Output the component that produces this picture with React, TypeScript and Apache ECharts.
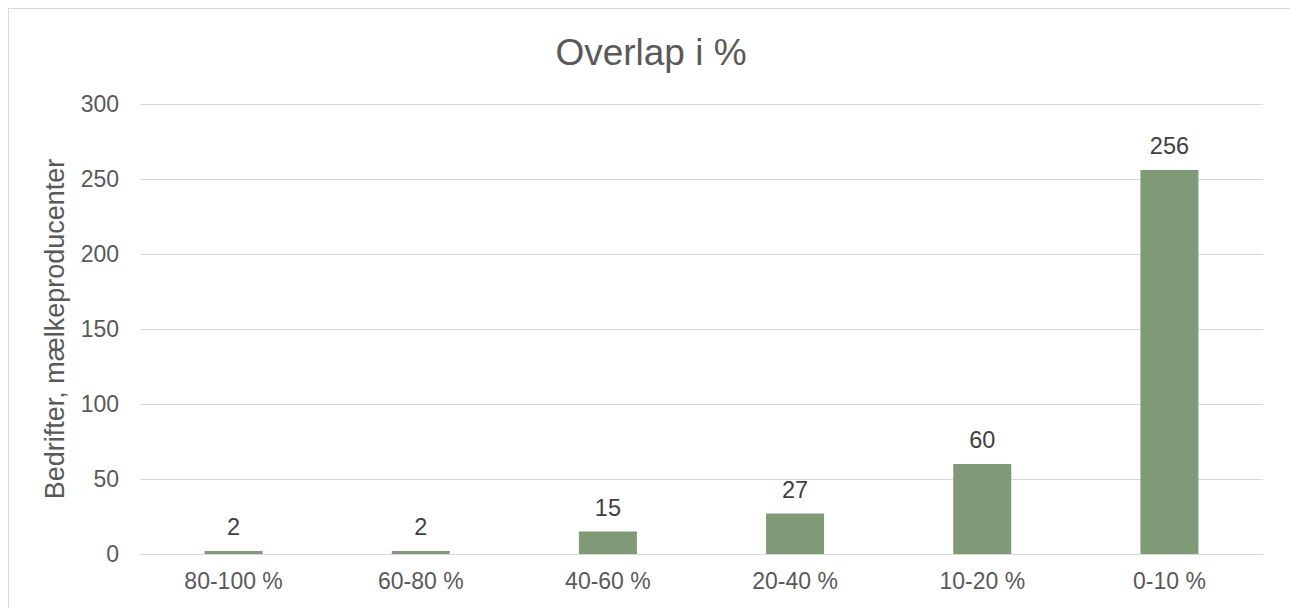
import React, { useEffect, useRef } from "react";
import * as echarts from "echarts";

const categories = ["80-100 %", "60-80 %", "40-60 %", "20-40 %", "10-20 %", "0-10 %"];
const values = [2, 2, 15, 27, 60, 256];
const titleText = "Overlap i %";
const yAxisName = "Bedrifter, mælkeproducenter";

export default function App() {
  const ref = useRef<HTMLDivElement>(null);
  useEffect(() => {
    if (!ref.current) return;
    const chart = echarts.init(ref.current, undefined, { renderer: "svg" });
    const font = "'Liberation Sans', Arial, sans-serif";
    chart.setOption({
      animation: false,
      backgroundColor: "#ffffff",
      textStyle: { fontFamily: font },
      title: {
        text: titleText,
        left: "center",
        top: 20,
        textStyle: { fontSize: 37, fontWeight: "normal", color: "#595959", fontFamily: font },
      },
      grid: { left: 131, right: 30, top: 95, bottom: 54, containLabel: false },
      xAxis: {
        type: "category",
        data: categories,
        axisLine: { show: true, lineStyle: { color: "#d9d9d9", width: 1 } },
        axisTick: { show: false },
        axisLabel: { color: "#595959", fontSize: 23, margin: 15, fontFamily: font },
      },
      yAxis: {
        type: "value",
        min: 0,
        max: 300,
        interval: 50,
        name: yAxisName,
        nameLocation: "middle",
        nameRotate: 90,
        nameGap: 72,
        nameTextStyle: { color: "#595959", fontSize: 27, fontFamily: font },
        axisLine: { show: false },
        axisTick: { show: false },
        splitLine: { lineStyle: { color: "#d9d9d9", width: 1 } },
        axisLabel: { color: "#595959", fontSize: 23, margin: 21, fontFamily: font },
      },
      series: [
        {
          type: "bar",
          data: values,
          barWidth: 58,
          itemStyle: { color: "#7f9a76" },
          label: {
            show: true,
            position: "top",
            distance: 12,
            color: "#404040",
            fontSize: 23.5,
            fontFamily: font,
          },
        },
      ],
    });
    return () => chart.dispose();
  }, []);
  return (
    <div
      style={{
        width: 1286,
        height: 600,
        border: "1px solid #d9d9d9",
        borderBottom: "none",
        boxSizing: "border-box",
        background: "#fff",
      }}
    >
      <div ref={ref} style={{ width: 1284, height: 599 }} />
    </div>
  );
}
